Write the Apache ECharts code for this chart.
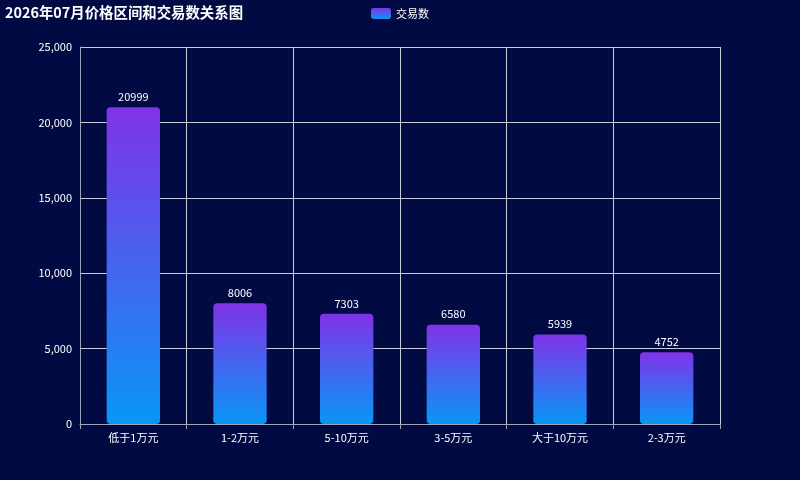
<!DOCTYPE html>
<html><head><meta charset="utf-8">
<script src="https://cdn.jsdelivr.net/npm/echarts@6/dist/echarts.min.js"></script>
<style>html,body{margin:0;padding:0;background:#010a42;}#c{width:800px;height:480px;}</style>
</head><body><div id="c"></div>
<script>
const categories = ['低于1万元','1-2万元','5-10万元','3-5万元','大于10万元','2-3万元'];
const tradeCounts = [20999, 8006, 7303, 6580, 5939, 4752];
const yTicks = {min:0, max:25000, interval:5000};
const chart = echarts.init(document.getElementById('c'));
const grad = new echarts.graphic.LinearGradient(0,0,0,1,[{offset:0,color:'#8033e8'},{offset:1,color:'#0996f6'}]);
chart.setOption({
  backgroundColor:'#010a42',
  textStyle:{fontFamily:'"Noto Sans CJK SC", "Noto Sans", sans-serif'},
  title:{text:'2026年07月价格区间和交易数关系图',left:0,top:0,textStyle:{color:'#fff',fontSize:14.4,fontWeight:'bold'}},
  legend:{top:3,left:'center',itemWidth:20,itemHeight:11,textStyle:{color:'#fff',fontSize:11},data:[{name:'交易数',icon:'roundRect'}]},
  grid:{left:80,right:80,top:47,bottom:56},
  xAxis:{type:'category',data:categories,
    axisLine:{lineStyle:{color:'#9fa3b8'}},axisTick:{show:true,lineStyle:{color:'#9fa3b8'}},
    axisLabel:{color:'#fff',fontSize:11},
    splitLine:{show:true,lineStyle:{color:'#c8cbd8'}}},
  yAxis:{type:'value',min:yTicks.min,max:yTicks.max,interval:yTicks.interval,
    axisLine:{show:true,lineStyle:{color:'#9fa3b8'}},axisTick:{show:false},
    axisLabel:{color:'#fff',fontSize:11},
    splitLine:{show:true,lineStyle:{color:'#c8cbd8'}}},
  series:[{name:'交易数',type:'bar',data:tradeCounts,barWidth:'50%',
    itemStyle:{color:grad,borderRadius:4},
    label:{show:true,position:'top',color:'#fff',fontSize:11}}]
});
</script></body></html>
